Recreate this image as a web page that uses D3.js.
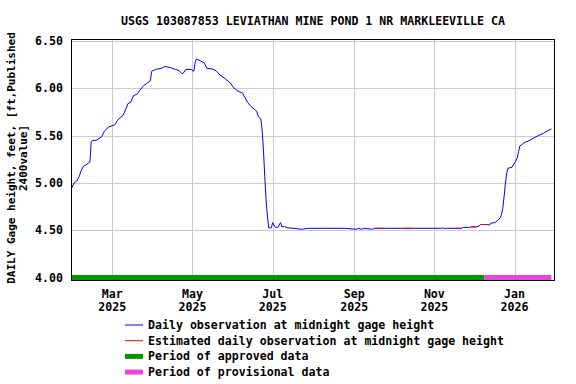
<!DOCTYPE html>
<html>
<head>
<meta charset="utf-8">
<script src="https://cdn.jsdelivr.net/npm/d3@7"></script>
<style>
  body { margin: 0; background: #fff; }
  svg text { font-family: "DejaVu Sans Mono", monospace; font-weight: bold; font-size: 11.6px; fill: #000; }
</style>
</head>
<body>
<div id="chart"></div>
<script>
// daily gage height readings (ft)
var dates = [
  "2025-01-29","2025-01-31","2025-02-02","2025-02-04","2025-02-05","2025-02-07","2025-02-09","2025-02-11",
  "2025-02-12","2025-02-13","2025-02-14","2025-02-17","2025-02-21","2025-02-23","2025-02-26","2025-03-01",
  "2025-03-03","2025-03-05","2025-03-07","2025-03-09","2025-03-11","2025-03-13","2025-03-15","2025-03-17",
  "2025-03-20","2025-03-22","2025-03-25","2025-03-28","2025-03-30","2025-03-31","2025-04-03","2025-04-07",
  "2025-04-10","2025-04-14","2025-04-18","2025-04-21","2025-04-23","2025-04-24","2025-04-26","2025-04-30",
  "2025-05-02","2025-05-03","2025-05-04","2025-05-07","2025-05-10","2025-05-12","2025-05-16","2025-05-19",
  "2025-05-22","2025-05-26","2025-05-30","2025-06-01","2025-06-04","2025-06-08","2025-06-10","2025-06-12",
  "2025-06-14","2025-06-17","2025-06-19","2025-06-20","2025-06-22","2025-06-23","2025-06-24","2025-06-25",
  "2025-06-26","2025-06-27","2025-06-28","2025-06-30","2025-07-01","2025-07-03","2025-07-05","2025-07-07",
  "2025-07-08","2025-07-10","2025-07-12","2025-07-17","2025-07-20","2025-07-23","2025-07-28","2025-08-10",
  "2025-08-25","2025-09-03","2025-09-04","2025-09-07","2025-09-08","2025-09-15","2025-09-16","2025-09-17",
  "2025-09-24","2025-10-09","2025-10-16","2025-11-06","2025-11-07","2025-11-08","2025-11-17","2025-11-22",
  "2025-11-23","2025-11-28","2025-11-29","2025-12-03","2025-12-05","2025-12-06","2025-12-11","2025-12-13",
  "2025-12-14","2025-12-17","2025-12-19","2025-12-21","2025-12-22","2025-12-23","2025-12-24","2025-12-25",
  "2025-12-26","2025-12-27","2025-12-30","2026-01-01","2026-01-03","2026-01-04","2026-01-05","2026-01-07",
  "2026-01-09","2026-01-12","2026-01-15","2026-01-19","2026-01-23","2026-01-26","2026-01-29"
];
var gage = [
  4.94, 5.00, 5.02, 5.07, 5.12, 5.175, 5.19, 5.21,
  5.22, 5.43, 5.45, 5.45, 5.49, 5.545, 5.59, 5.605,
  5.615, 5.66, 5.69, 5.71, 5.77, 5.84, 5.85, 5.92,
  5.94, 5.98, 6.03, 6.06, 6.08, 6.18, 6.20, 6.21,
  6.23, 6.22, 6.20, 6.185, 6.155, 6.16, 6.20, 6.20,
  6.18, 6.27, 6.31, 6.29, 6.27, 6.21, 6.205, 6.185,
  6.14, 6.10, 6.055, 6.01, 5.975, 5.95, 5.90, 5.85,
  5.815, 5.78, 5.755, 5.70, 5.675, 5.56, 5.35, 5.07,
  4.82, 4.65, 4.525, 4.525, 4.58, 4.53, 4.53, 4.58,
  4.535, 4.54, 4.525, 4.52, 4.515, 4.51, 4.52, 4.52,
  4.52, 4.51, 4.52, 4.51, 4.52, 4.51, 4.52, 4.52,
  4.52, 4.52, 4.52, 4.52, 4.525, 4.52, 4.52, 4.52,
  4.53, 4.53, 4.535, 4.535, 4.545, 4.56, 4.56, 4.555,
  4.575, 4.58, 4.60, 4.63, 4.66, 4.73, 4.85, 4.99,
  5.10, 5.155, 5.165, 5.21, 5.26, 5.33, 5.39, 5.41,
  5.43, 5.445, 5.47, 5.50, 5.525, 5.55, 5.57
];
// estimated-value stretches (start, end)
var estStart = ["2025-09-17", "2025-10-09", "2025-11-17", "2025-11-29", "2025-12-06"];
var estEnd   = ["2025-09-24", "2025-10-16", "2025-11-22", "2025-12-03", "2025-12-11"];
// approval periods
var periodNames = ["approved", "provisional"];
var periodStart = ["2025-01-29", "2025-12-09"];
var periodEnd   = ["2025-12-09", "2026-01-29"];
var yTicks = [4.00, 4.50, 5.00, 5.50, 6.00, 6.50];
var xTicks = ["2025-03-01", "2025-05-01", "2025-07-01", "2025-09-01", "2025-11-01", "2026-01-01"];
var legendLabels = [
  "Daily observation at midnight gage height",
  "Estimated daily observation at midnight gage height",
  "Period of approved data",
  "Period of provisional data"
];

var width = 576, height = 384;
var plotL = 71.5, plotR = 554, plotT = 39.5, plotB = 280;

var parse = d3.utcParse("%Y-%m-%d");
var data = dates.map(function (d, i) { return { date: parse(d), value: gage[i] }; });

var x = d3.scaleUtc()
    .domain([parse("2025-01-29"), parse("2026-01-31")])
    .range([plotL, plotR]);
var y = d3.scaleLinear()
    .domain([4, 6.5])
    .range([277.5, 41]);

var svg = d3.select("#chart")
    .append("svg")
    .attr("width", width)
    .attr("height", height);

svg.append("text")
    .attr("x", 313)
    .attr("y", 25)
    .attr("text-anchor", "middle")
    .text("USGS 103087853 LEVIATHAN MINE POND 1 NR MARKLEEVILLE CA");

// grid
svg.append("g").selectAll("line")
    .data(yTicks.slice(1))
    .enter().append("line")
    .attr("x1", plotL).attr("x2", plotR)
    .attr("y1", function (d) { return Math.round(y(d)) + 0.5; })
    .attr("y2", function (d) { return Math.round(y(d)) + 0.5; })
    .attr("stroke", "#cccccc");

svg.append("g").selectAll("line")
    .data(xTicks)
    .enter().append("line")
    .attr("x1", function (d) { return Math.round(x(parse(d))) + 0.5; })
    .attr("x2", function (d) { return Math.round(x(parse(d))) + 0.5; })
    .attr("y1", plotT).attr("y2", plotB)
    .attr("stroke", "#cccccc");

// y tick labels
svg.append("g").selectAll("text")
    .data(yTicks)
    .enter().append("text")
    .attr("x", 63)
    .attr("y", function (d) { return y(d) + 4; })
    .attr("text-anchor", "end")
    .text(function (d) { return d3.format(".2f")(d); });

// x tick labels
var xl = svg.append("g").selectAll("text")
    .data(xTicks)
    .enter().append("text")
    .attr("text-anchor", "middle")
    .attr("transform", function (d) { return "translate(" + x(parse(d)) + ",0)"; });
xl.append("tspan").attr("x", 0).attr("y", 298).text(function (d) { return d3.utcFormat("%b")(parse(d)); });
xl.append("tspan").attr("x", 0).attr("y", 311).text(function (d) { return d3.utcFormat("%Y")(parse(d)); });

// y axis title
var yt = svg.append("text")
    .attr("text-anchor", "middle")
    .style("font-size", "11px")
    .attr("transform", "translate(15,158) rotate(-90)");
yt.append("tspan").attr("x", 0).attr("y", 0).text("DAILY Gage height, feet, [ft,Published");
yt.append("tspan").attr("x", 0).attr("y", 11.5).text("2400value]");

var line = d3.line()
    .x(function (d) { return x(d.date); })
    .y(function (d) { return y(d.value); });

svg.append("path")
    .datum(data)
    .attr("d", line)
    .attr("fill", "none")
    .attr("stroke", "#0000ff")
    .attr("stroke-width", 1);

estStart.forEach(function (s, i) {
    var a = parse(s), b = parse(estEnd[i]);
    var seg = data.filter(function (d) { return d.date >= a && d.date <= b; });
    svg.append("path")
        .datum(seg)
        .attr("d", line)
        .attr("fill", "none")
        .attr("stroke", "#ff0000")
        .attr("stroke-width", 1);
});

var periodColor = d3.scaleOrdinal().domain(periodNames).range(["#009900", "#ee44dd"]);

svg.append("g").selectAll("rect")
    .data(periodNames)
    .enter().append("rect")
    .attr("x", function (d, i) { return x(parse(periodStart[i])); })
    .attr("width", function (d, i) { return x(parse(periodEnd[i])) - x(parse(periodStart[i])); })
    .attr("y", 275)
    .attr("height", 5)
    .attr("fill", function (d) { return periodColor(d); });

// plot frame
svg.append("rect")
    .attr("x", plotL).attr("y", plotT)
    .attr("width", plotR - plotL).attr("height", plotB - plotT)
    .attr("fill", "none")
    .attr("stroke", "#000")
    .attr("stroke-width", 1)
    .attr("shape-rendering", "crispEdges");

// legend
var legendColor = ["#0000ff", "#ff0000", "#009900", "#ee44dd"];
var legendWidth = [1, 1, 5, 5];
var lg = svg.append("g").selectAll("g")
    .data(legendLabels)
    .enter().append("g")
    .attr("transform", function (d, i) { return "translate(0," + (325 + i * 15.7) + ")"; });
lg.append("line")
    .attr("x1", 125).attr("x2", 143)
    .attr("y1", 0).attr("y2", 0)
    .attr("stroke", function (d, i) { return legendColor[i]; })
    .attr("stroke-width", function (d, i) { return legendWidth[i]; });
lg.append("text")
    .attr("x", 148)
    .attr("y", 4)
    .text(function (d) { return d; });
</script>
</body>
</html>
